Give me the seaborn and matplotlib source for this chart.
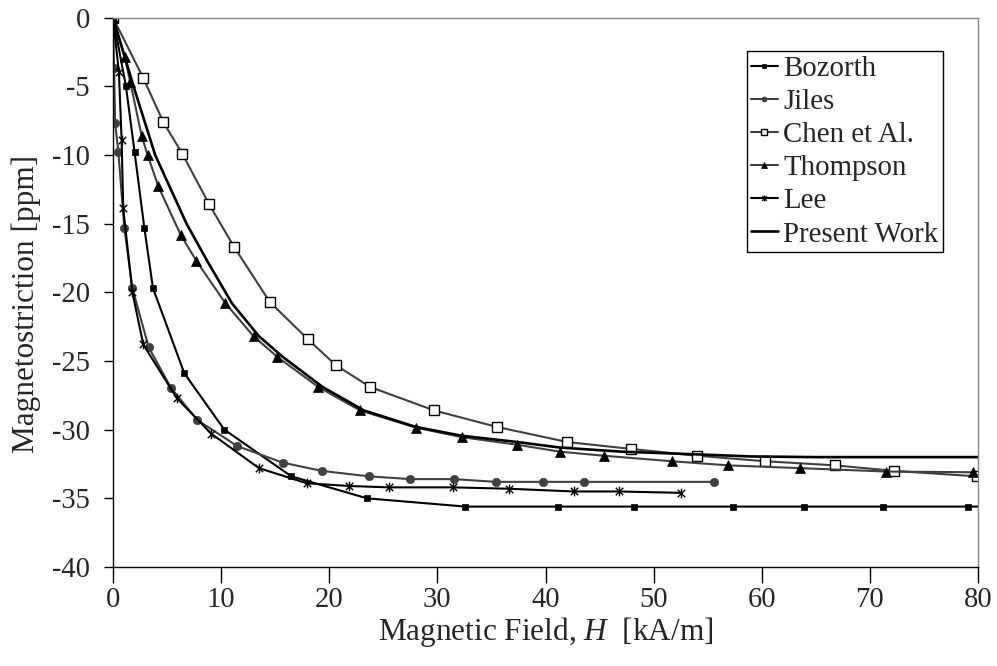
import numpy as np
import pandas as pd
import matplotlib
matplotlib.use("Agg")
import matplotlib.pyplot as plt
import seaborn as sns
from matplotlib.path import Path

# ---------------- data ----------------
bozorth_x = [0, 1.2, 2.0, 2.9, 3.7, 6.6, 10.3, 16.5, 23.5, 32.6, 41.2, 48.2, 57.3, 63.9, 71.2, 79.1, 85]
bozorth_y = [0, -5.0, -9.8, -15.3, -19.7, -25.9, -30.0, -33.4, -35.0, -35.6, -35.6, -35.6, -35.6, -35.6, -35.6, -35.6, -35.6]

jiles_x = [0, 0.1, 0.2, 0.5, 1.05, 1.8, 3.3, 5.4, 7.8, 11.5, 15.7, 19.3, 23.7, 27.5, 31.5, 35.4, 39.8, 43.6, 55.6]
jiles_y = [0, -3.65, -7.7, -9.8, -15.3, -19.7, -24.0, -27.0, -29.3, -31.2, -32.4, -33.0, -33.4, -33.6, -33.6, -33.8, -33.8, -33.8, -33.8]

chen_x = [0, 2.8, 4.65, 6.4, 8.9, 11.2, 14.5, 18.0, 20.6, 23.8, 29.7, 35.5, 42.0, 47.9, 54.0, 60.3, 66.8, 72.2, 79.9]
chen_y = [0, -4.4, -7.6, -9.9, -13.6, -16.7, -20.7, -23.4, -25.3, -26.9, -28.6, -29.8, -30.9, -31.4, -31.9, -32.3, -32.6, -33.0, -33.4]

thompson_x = [0, 1.1, 1.6, 2.65, 3.2, 4.2, 6.25, 7.7, 10.4, 13.0, 15.2, 19.0, 22.85, 28.0, 32.3, 37.4, 41.3, 45.4, 51.7, 56.9, 63.5, 71.5, 79.5]
thompson_y = [0, -2.9, -4.7, -8.6, -10.0, -12.3, -15.8, -17.7, -20.8, -23.2, -24.7, -26.9, -28.6, -29.85, -30.55, -31.1, -31.6, -31.9, -32.3, -32.6, -32.8, -33.05, -33.1]

lee_x = [0, 0.55, 0.8, 0.95, 1.8, 2.8, 5.9, 9.1, 13.5, 17.9, 21.8, 25.5, 31.4, 36.6, 42.6, 46.8, 52.5]
lee_y = [0, -4.0, -8.9, -13.9, -20.0, -23.8, -27.7, -30.3, -32.8, -33.9, -34.1, -34.2, -34.2, -34.3, -34.5, -34.5, -34.6]

present_x = [0, 1.9, 3.9, 6.8, 8.7, 11.0, 13.5, 15.7, 19.4, 23.2, 28.0, 32.3, 37.4, 41.3, 47.0, 54.0, 59.0, 65.0, 72.0, 80.0]
present_y = [0, -5.0, -10.0, -15.0, -17.7, -20.8, -23.2, -24.7, -26.9, -28.6, -29.8, -30.45, -30.9, -31.3, -31.6, -31.8, -31.95, -32.0, -32.0, -32.0]

x_ticks = [0, 10, 20, 30, 40, 50, 60, 70, 80]
y_ticks = [0, -5, -10, -15, -20, -25, -30, -35, -40]

# ---------------- style ----------------
sns.set_style("white")
plt.rcParams['font.family'] = ['Liberation Serif', 'DejaVu Serif']
plt.rcParams['mathtext.fontset'] = 'custom'
plt.rcParams['mathtext.rm'] = 'Liberation Serif'
plt.rcParams['mathtext.it'] = 'Liberation Serif:italic'

TICK_FS = 20.6
LABEL_FS = 22.5
LEG_FS = 20.8
GRAY = '#404040'

# asterisk marker (x plus vertical bar)
star_path = Path(
    [(-1, -1), (1, 1), (-1, 1), (1, -1), (0, -1.3), (0, 1.3)],
    [Path.MOVETO, Path.LINETO, Path.MOVETO, Path.LINETO, Path.MOVETO, Path.LINETO],
)

fig = plt.figure(figsize=(9.97, 6.66), dpi=100)
ax = fig.add_axes([0.1133, 0.1486, 0.981 - 0.1133, 0.9737 - 0.1486])

common = dict(ax=ax, estimator=None, sort=False, linewidth=1.5)

sns.lineplot(x=bozorth_x, y=bozorth_y, color='black', marker='s', markersize=5,
             mec='black', mew=0.5, label='Bozorth', **common)
sns.lineplot(x=jiles_x, y=jiles_y, color=GRAY, marker='o', markersize=6,
             mec=GRAY, mew=0.5, label='Jiles', **common)
sns.lineplot(x=chen_x, y=chen_y, color=GRAY, marker='s', markersize=6.5,
             mfc='white', mec='black', mew=1.0, label='Chen et Al.', **common)
sns.lineplot(x=thompson_x, y=thompson_y, color=GRAY, marker='^', markersize=6.5,
             mfc='black', mec='black', mew=0.5, label='Thompson', **common)
sns.lineplot(x=lee_x, y=lee_y, color='black', marker=star_path, markersize=7,
             mec='black', mew=1.0, label='Lee', **common)
sns.lineplot(x=present_x, y=present_y, color='black', label='Present Work',
             ax=ax, estimator=None, sort=False, linewidth=1.9)

ax.set_xlim(0, 80)
ax.set_ylim(-40, 0)
ax.set_xticks(x_ticks)
ax.set_yticks(y_ticks)
ax.set_xticklabels([str(v) for v in x_ticks], fontsize=TICK_FS)
ax.set_yticklabels([str(v) for v in y_ticks], fontsize=TICK_FS)
ax.tick_params(axis='x', direction='out', length=11.5, width=1, color='black',
               bottom=True, pad=3)
ax.tick_params(axis='y', direction='out', length=6.5, width=1, color='black',
               left=True, pad=10)

for s in ['left', 'bottom']:
    ax.spines[s].set_color('black')
    ax.spines[s].set_linewidth(1.0)
for s in ['top', 'right']:
    ax.spines[s].set_color('#888888')
    ax.spines[s].set_linewidth(1.0)

ax.set_xlabel(r'Magnetic Field, $\mathit{H}$  [kA/m]', fontsize=LABEL_FS, labelpad=1.5)
ax.set_ylabel('Magnetostriction [ppm]', fontsize=LABEL_FS, labelpad=8)
ax.yaxis.label.set_y(0.4786)

leg = ax.legend(loc='upper left', bbox_to_anchor=(0.7324, 0.939), borderaxespad=0,
                fontsize=LEG_FS, frameon=True, fancybox=False, shadow=False,
                handlelength=0.93, handletextpad=0.19, labelspacing=0.24,
                borderpad=0.155, markerscale=0.6)
leg.get_frame().set_edgecolor('black')
leg.get_frame().set_linewidth(1.0)
leg.get_frame().set_alpha(1)

fig.savefig('out.png', dpi=100)
